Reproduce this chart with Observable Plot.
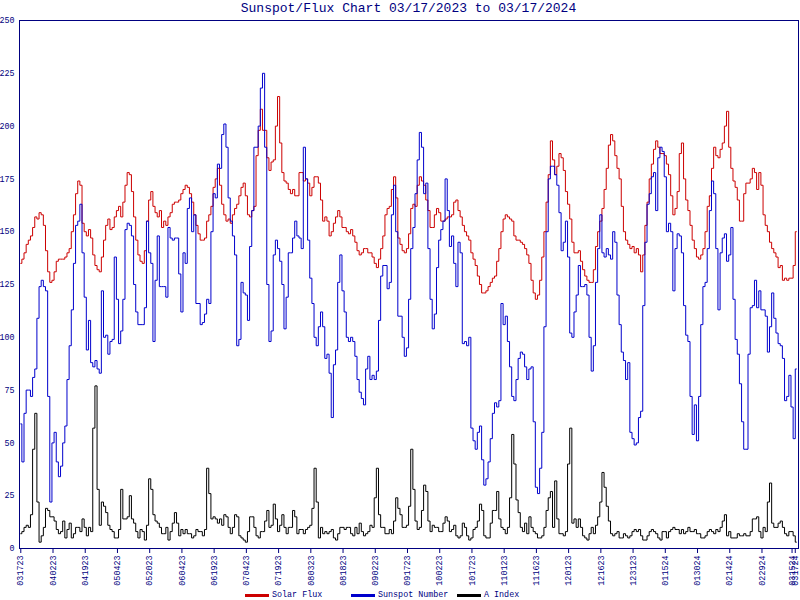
<!DOCTYPE html>
<html>
<head>
<meta charset="utf-8">
<script src="https://cdn.jsdelivr.net/npm/d3@7"></script>
<script src="https://cdn.jsdelivr.net/npm/@observablehq/plot@0.6"></script>
<style>
  html, body { margin: 0; padding: 0; background: #ffffff; }
  #page { position: relative; width: 800px; height: 600px; overflow: hidden; background: #fff; }
  #title { position: absolute; left: 19px; width: 779px; top: 0; height: 17px; line-height: 17px;
           text-align: center; font-family: "Liberation Mono", "DejaVu Sans Mono", monospace; font-size: 13px; color: #000080; }
  #chart { position: absolute; left: 0; top: 16px; }
  #legend { position: absolute; top: 589px; left: 0; width: 800px; height: 12px;
            font-family: "Liberation Mono", "DejaVu Sans Mono", monospace; font-size: 8.4px; color: #000080; }
  .item { position: absolute; top: 0; height: 12px; display: flex; align-items: center; }
  .sw { width: 24px; height: 3px; margin-right: 3px; }
</style>
</head>
<body>
<div id="page">
  <div id="title"></div>
  <div id="chart"></div>
  <div id="legend"></div>
</div>
<script>
const titleText = "Sunspot/Flux Chart 03/17/2023 to 03/17/2024";

const solarFlux = [
135,137,140,144,146,148,152,157,156,159,
158,153,141,131,126,127,131,136,137,137,
137,138,140,142,150,158,168,174,172,154,
150,148,151,147,139,134,132,131,138,146,
153,156,151,152,157,160,162,157,164,172,
178,177,169,157,146,139,136,135,141,155,
165,169,162,159,157,160,152,155,153,157,
159,163,164,164,165,168,170,172,171,168,
164,158,153,149,146,146,147,155,158,162,
171,175,180,172,163,158,155,156,154,158,
161,163,167,171,173,167,158,157,160,162,
186,198,208,198,198,185,179,183,184,200,
214,192,178,174,173,170,168,170,167,167,
178,178,174,175,173,167,171,176,176,173,
165,155,157,155,148,150,154,157,160,157,
152,152,150,149,151,148,145,141,139,140,
142,142,140,140,138,135,133,137,142,148,
158,161,162,170,176,166,147,144,141,140,
142,149,161,163,162,172,176,174,172,165,
160,152,152,158,161,159,155,155,156,157,
157,158,164,165,160,157,153,150,148,146,
140,137,134,129,125,121,121,122,124,126,
128,129,136,142,150,156,158,157,156,155,
148,146,146,145,144,142,139,135,127,121,
118,120,127,138,150,164,177,193,184,177,
181,187,185,179,169,163,156,145,140,140,
141,136,132,129,127,126,126,132,143,150,
155,161,170,180,191,196,193,186,180,175,
162,150,146,144,142,143,140,142,139,131,
139,153,164,175,182,189,193,190,187,187,
186,182,177,167,158,161,169,187,192,175,
165,160,153,146,142,138,137,139,142,150,
162,167,180,190,186,185,189,192,200,207,
190,180,174,171,165,155,155,168,173,173,
175,180,178,170,178,172,158,153,150,145,
142,140,138,133,134,127,128,127,128,128,
134,150
];

const sunspotNumber = [
59,41,64,75,75,72,81,85,109,124,
127,124,122,72,22,50,55,41,34,39,
50,58,80,96,113,135,153,155,163,140,
119,94,108,88,86,89,85,83,122,100,
101,92,98,99,138,118,97,103,118,151,
154,153,148,125,112,106,106,106,114,155,
140,135,98,127,148,124,124,124,119,152,
147,146,147,147,130,112,140,135,161,166,
150,158,116,116,106,107,111,118,116,150,
168,166,182,180,196,201,190,166,155,148,
139,96,99,126,121,120,108,143,160,190,
190,200,218,225,190,125,98,103,139,146,
142,136,125,104,119,140,140,147,155,148,
147,142,190,175,146,128,116,100,96,105,
112,105,90,92,83,62,87,94,126,139,
122,112,100,98,100,98,91,80,74,71,
68,85,91,80,82,80,84,108,129,134,
134,123,126,158,172,150,110,110,100,91,
95,118,142,152,168,184,197,190,168,173,
142,118,104,111,133,146,151,155,175,160,
143,148,135,124,145,140,97,98,96,100,
57,51,47,55,58,42,30,33,41,52,
64,69,67,70,116,106,110,98,86,72,
70,80,90,93,92,86,80,85,86,60,
29,26,38,55,105,150,175,181,181,177,
172,159,141,145,155,138,102,100,112,120,
134,124,124,125,120,100,84,96,126,142,
158,140,138,142,139,137,150,145,120,106,
93,89,80,88,55,52,49,50,62,65,
115,145,163,168,176,178,160,185,190,188,
176,150,154,150,122,142,149,148,140,115,
101,98,72,54,68,51,72,106,124,126,
142,160,174,168,142,113,140,147,149,136,
139,152,118,99,92,78,60,47,47,92,
114,115,127,114,122,113,113,110,93,105,
121,109,102,97,96,90,70,72,82,67,
52,85
];

const aIndex = [
7,8,10,11,10,16,47,64,22,3,
6,10,19,18,15,15,13,9,7,8,
13,5,9,12,5,7,10,10,8,14,
10,6,10,8,57,77,28,11,22,20,
17,11,9,8,5,5,9,28,14,14,
15,25,14,12,8,5,9,8,4,11,
33,28,16,13,12,10,7,7,10,4,
8,12,17,12,6,9,7,9,7,7,
5,6,9,8,8,6,9,38,26,14,
15,14,12,14,11,16,15,10,7,10,
16,15,6,5,4,3,8,15,15,10,
6,5,8,8,13,18,10,11,21,14,
8,11,16,10,7,10,10,18,15,7,
9,9,7,9,10,11,19,38,22,5,
10,7,8,7,8,9,5,4,7,10,
10,9,10,10,7,6,10,7,12,8,
6,7,8,11,10,24,38,16,10,10,
7,7,9,7,13,24,19,16,10,10,
11,20,47,28,13,9,10,18,30,27,
13,8,11,10,10,8,8,12,15,13,
8,9,11,6,5,6,12,10,6,4,
5,9,10,13,21,18,6,5,5,12,
18,18,27,14,10,9,7,10,24,54,
40,23,17,10,8,12,7,15,10,8,
7,5,5,6,10,18,24,27,10,32,
14,7,7,6,8,40,57,12,14,10,
14,10,6,5,4,7,10,7,11,15,
22,36,29,20,13,7,6,7,8,5,
5,7,6,5,6,8,9,8,9,6,
4,4,6,8,9,8,7,5,4,8,
8,5,8,9,10,9,9,7,9,7,
8,10,8,8,9,7,7,5,5,6,
8,9,8,7,9,8,10,13,16,6,
8,5,5,5,7,6,6,7,6,6,
8,14,14,15,8,5,10,8,22,31,
12,10,10,12,13,10,7,6,8,8,
6,3
];

const tickLabels = ["031723","040223","041923","050423","052023","060423","061923","070423",
  "071923","080323","081823","090223","091723","100223","101723","110123","111623","120123",
  "121623","123123","011524","013024","021424","022924","031524","031724"];
const tickIndex = [0,15,30,45,60,75,90,105,120,135,150,165,180,195,210,225,240,255,270,285,300,315,330,345,359,360.5];

const yTicks = [0,25,50,75,100,125,150,175,200,225,250];

const seriesNames = ["Solar Flux", "Sunspot Number", "A Index"];
const seriesColors = ["#cc0000", "#0000cc", "#000000"];
const seriesKeys = ["flux", "sunspot", "aindex"];

const n = solarFlux.length;
const rows = d3.range(n).map(i => ({i, flux: solarFlux[i], sunspot: sunspotNumber[i], aindex: aIndex[i]}));
const labelAt = new Map(tickIndex.map((t, k) => [t, tickLabels[k]]));

document.getElementById("title").textContent = titleText;

const navy = "#000080";
const chart = Plot.plot({
  width: 800,
  height: 572,
  marginTop: 4,
  marginBottom: 40,
  marginLeft: 19,
  marginRight: 2,
  style: {fontFamily: "'Liberation Mono', 'DejaVu Sans Mono', monospace", fontSize: "8.4px", color: navy, background: "#fff"},
  x: {domain: [-0.6, 362], label: null},
  y: {domain: [0, 250], label: null},
  marks: [
    Plot.axisY({ticks: yTicks, tickSize: 0, tickPadding: 5, label: null, fill: navy}),
    Plot.axisX({ticks: tickIndex, tickFormat: d => labelAt.get(d), tickSize: 5, tickPadding: 2,
                tickRotate: -90, label: null, fill: navy, stroke: navy}),
    ...seriesKeys.map((k, s) => Plot.lineY(rows, {x: "i", y: k, stroke: seriesColors[s], strokeWidth: 1, curve: "step"})),
    Plot.frame({stroke: navy})
  ]
});
document.getElementById("chart").appendChild(chart);

const legend = document.getElementById("legend");
const legendLeft = [245, 351, 457];
seriesNames.forEach((name, s) => {
  const item = document.createElement("div");
  item.className = "item";
  item.style.left = legendLeft[s] + "px";
  const sw = document.createElement("span");
  sw.className = "sw";
  sw.style.background = seriesColors[s];
  const tx = document.createElement("span");
  tx.textContent = name;
  item.appendChild(sw);
  item.appendChild(tx);
  legend.appendChild(item);
});
</script>
</body>
</html>
